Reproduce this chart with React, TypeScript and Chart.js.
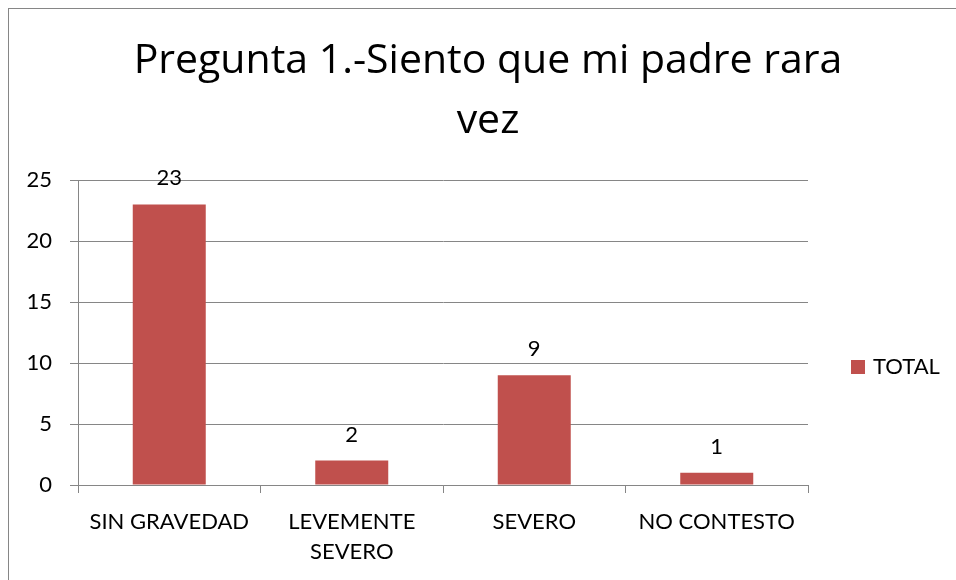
import React, { useEffect, useRef } from "react";
import { Chart, registerables } from "chart.js";

Chart.register(...registerables);

const TITLE_LINES = ["Pregunta 1.-Siento que mi padre rara", "vez"];
const CATEGORIES: (string | string[])[] = ["SIN GRAVEDAD", ["LEVEMENTE", "SEVERO"], "SEVERO", "NO CONTESTO"];
const SERIES_NAME = "TOTAL";
const VALUES = [23, 2, 9, 1];
const Y_MAX = 25;
const Y_STEP = 5;

const BAR_COLOR = "#C0504D";
const GRID_COLOR = "#868686";
const FONT = "Lato";
const TITLE_FONT = "'Open Sans'";
const W = 958;
const H = 600;

const overlayPlugin = {
  id: "overlay",
  afterDatasetsDraw(chart: any) {
    const ctx = chart.ctx;
    ctx.save();
    ctx.fillStyle = "#000";
    ctx.font = `22px ${FONT}`;
    ctx.textAlign = "center";
    ctx.textBaseline = "alphabetic";
    const meta = chart.getDatasetMeta(0);
    meta.data.forEach((bar: any, i: number) => {
      ctx.fillText(String(chart.data.datasets[0].data[i]), bar.x, bar.y - 19);
    });
    // title
    ctx.font = `41px ${TITLE_FONT}`;
    const cx = chart.width / 2;
    ctx.fillText(TITLE_LINES[0], cx, 73 - 9);
    ctx.fillText(TITLE_LINES[1], cx, 133 - 9);
    // legend
    ctx.fillStyle = BAR_COLOR;
    ctx.fillRect(842, 351, 14, 14);
    ctx.fillStyle = "#000";
    ctx.textAlign = "left";
    ctx.font = `22px ${FONT}`;
    ctx.fillText(chart.data.datasets[0].label, 864, 365);
    ctx.restore();
  },
};

export default function App() {
  const ref = useRef<HTMLCanvasElement>(null);
  useEffect(() => {
    if (!ref.current) return;
    const chart = new Chart(ref.current, {
      type: "bar",
      data: {
        labels: CATEGORIES,
        datasets: [
          {
            label: SERIES_NAME,
            data: VALUES,
            backgroundColor: BAR_COLOR,
            barPercentage: 0.4,
            categoryPercentage: 1,
          },
        ],
      },
      options: {
        responsive: false,
        animation: false,
        devicePixelRatio: 1,
        layout: { padding: { left: 0, top: 171, right: W - 799, bottom: 0 } },
        plugins: {
          legend: { display: false },
          title: { display: false },
          tooltip: { enabled: false },
        },
        scales: {
          x: {
            afterFit: (s: any) => {
              s.height = H - 476;
            },
            grid: {
              drawOnChartArea: false,
              drawTicks: true,
              tickLength: 8,
              color: GRID_COLOR,
              offset: true,
            },
            border: { display: true, color: GRID_COLOR },
            ticks: {
              color: "#000",
              padding: 14,
              maxRotation: 0,
              autoSkip: false,
              font: { family: FONT, size: 22, lineHeight: 30 / 22 },
            },
          },
          y: {
            min: 0,
            max: Y_MAX,
            afterFit: (s: any) => {
              s.width = 69;
            },
            grid: { color: GRID_COLOR, tickLength: 8, drawTicks: true },
            border: { display: true, color: GRID_COLOR },
            ticks: {
              stepSize: Y_STEP,
              color: "#000",
              padding: 18,
              font: { family: FONT, size: 22 },
            },
          },
        },
      },
      plugins: [overlayPlugin],
    });
    return () => chart.destroy();
  }, []);

  return (
    <div
      style={{
        position: "fixed",
        left: 8,
        top: 8,
        width: W,
        height: H,
        border: `1px solid ${GRID_COLOR}`,
        background: "#fff",
      }}
    >
      <canvas ref={ref} width={W} height={H} style={{ display: "block", width: W, height: H }} />
    </div>
  );
}
